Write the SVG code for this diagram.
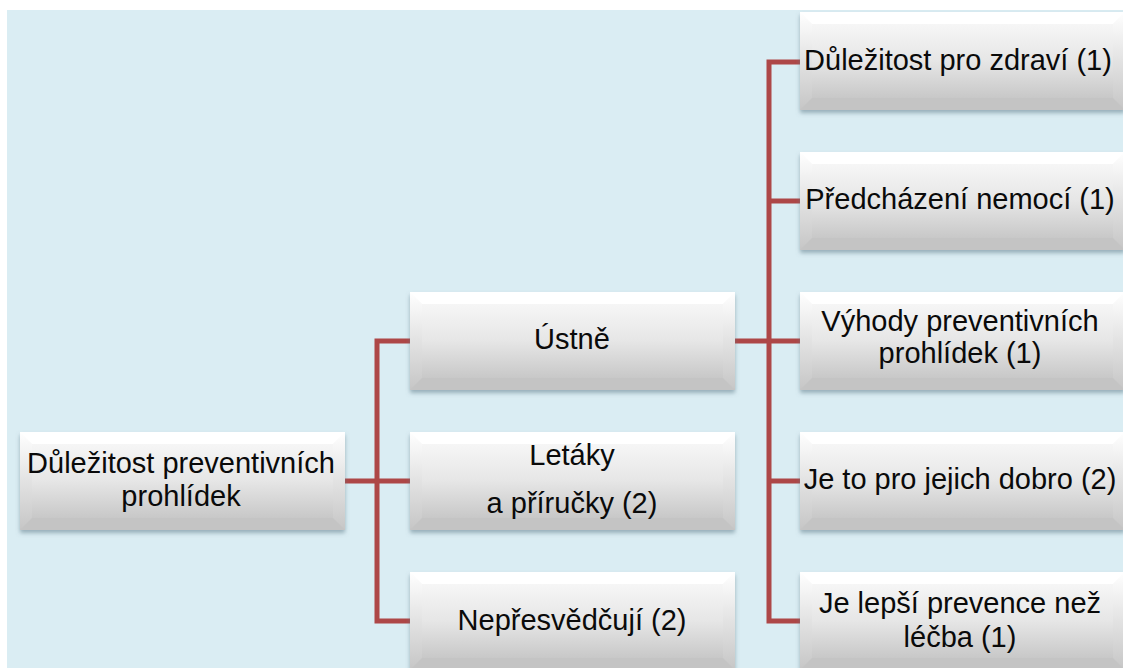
<svg xmlns="http://www.w3.org/2000/svg" xmlns:xlink="http://www.w3.org/1999/xlink" width="1123" height="668" viewBox="0 0 1123 668">
<defs>
<linearGradient id="gOuter" x1="0" y1="0" x2="0" y2="1">
<stop offset="0" stop-color="#FFFFFF"/>
<stop offset="1" stop-color="#C6C6C6"/>
</linearGradient>
<linearGradient id="gInner" x1="0" y1="0" x2="0" y2="1">
<stop offset="0" stop-color="#F6F6F6"/>
<stop offset="0.5" stop-color="#E6E6E6"/>
<stop offset="1" stop-color="#C8C8C8"/>
</linearGradient>
<filter id="shadow" x="-5%" y="-10%" width="110%" height="130%">
<feDropShadow dx="0" dy="3" stdDeviation="2" flood-color="#5E7C88" flood-opacity="0.55"/>
</filter>
<g id="box">
<rect x="0" y="0" width="325" height="98" fill="url(#gOuter)" filter="url(#shadow)"/>
<polygon points="0,0 325,0 313,12 12,12" fill="#FFFFFF"/>
<polygon points="0,0 12,12 12,86 0,98" fill="url(#gOuter)" opacity="0.9"/>
<polygon points="325,0 313,12 313,86 325,98" fill="url(#gOuter)"/>
<polygon points="0,98 12,86 313,86 325,98" fill="#C4C4C4"/>
<rect x="12" y="12" width="301" height="74" fill="url(#gInner)"/>
</g>
</defs>
<style>
.lbl{font-family:"Liberation Sans",Arial,sans-serif;font-size:29px;fill:#0A0A0A;text-anchor:middle}
.conn{fill:none;stroke:#AD4747;stroke-width:5;stroke-linejoin:miter}
</style>
<rect x="7" y="10" width="1116" height="658" fill="#DAEDF3"/>
<g id="connectors">
<path class="conn" d="M345,481 H410"/>
<path class="conn" d="M410,341 H377 V621 H410"/>
<path class="conn" d="M735,341 H800"/>
<path class="conn" d="M800,62 H769 V621 H800"/>
<path class="conn" d="M769,201 H800"/>
<path class="conn" d="M769,481 H800"/>
</g>
<g id="node-root">
<use xlink:href="#box" x="20" y="432"/>
<text class="lbl" x="181" y="473">Důležitost preventivních</text>
<text class="lbl" x="181" y="506">prohlídek</text>
</g>
<g id="node-ustne">
<use xlink:href="#box" x="410" y="292"/>
<text class="lbl" x="572" y="349">Ústně</text>
</g>
<g id="node-letaky">
<use xlink:href="#box" x="410" y="432"/>
<text class="lbl" x="572" y="465">Letáky</text>
<text class="lbl" x="572" y="513">a příručky (2)</text>
</g>
<g id="node-nepresvedcuji">
<use xlink:href="#box" x="410" y="572"/>
<text class="lbl" x="572" y="630">Nepřesvědčují (2)</text>
</g>
<g id="node-r1">
<use xlink:href="#box" x="800" y="12"/>
<text class="lbl" x="958" y="70">Důležitost pro zdraví (1)</text>
</g>
<g id="node-r2">
<use xlink:href="#box" x="800" y="152"/>
<text class="lbl" x="960" y="209">Předcházení nemocí (1)</text>
</g>
<g id="node-r3">
<use xlink:href="#box" x="800" y="292"/>
<text class="lbl" x="960" y="331">Výhody preventivních</text>
<text class="lbl" x="960" y="363">prohlídek (1)</text>
</g>
<g id="node-r4">
<use xlink:href="#box" x="800" y="432"/>
<text class="lbl" x="960" y="489">Je to pro jejich dobro (2)</text>
</g>
<g id="node-r5">
<use xlink:href="#box" x="800" y="572"/>
<text class="lbl" x="960" y="613">Je lepší prevence než</text>
<text class="lbl" x="960" y="647">léčba (1)</text>
</g>
</svg>
